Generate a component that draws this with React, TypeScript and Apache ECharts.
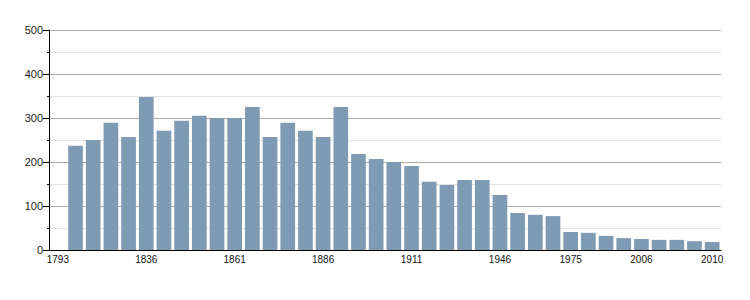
import React, { useEffect, useRef } from "react";
import * as echarts from "echarts";

const years = [
  "1793", "1800", "1806", "1821", "1831", "1836", "1841", "1846", "1851", "1856",
  "1861", "1866", "1872", "1876", "1881", "1886", "1891", "1896", "1901", "1906",
  "1911", "1921", "1926", "1931", "1936", "1946", "1954", "1962", "1968", "1975",
  "1982", "1990", "1999", "2006", "2007", "2008", "2009", "2010",
];

const population: (number | string)[] = [
  "-", 237, 250, 289, 257, 348, 271, 294, 305, 300,
  300, 325, 257, 289, 271, 257, 325, 218, 207, 200,
  191, 155, 148, 159, 159, 125, 84, 80, 77, 41,
  39, 32, 27, 25, 23, 23, 20, 18,
];

const labeledYears = ["1793", "1836", "1861", "1886", "1911", "1946", "1975", "2006", "2010"];

const FONT = "'Liberation Sans', Arial, Helvetica, sans-serif";

export default function App() {
  const ref = useRef<HTMLDivElement>(null);

  useEffect(() => {
    if (!ref.current) return;
    const chart = echarts.init(ref.current, undefined, { renderer: "svg" });
    chart.setOption({
      animation: false,
      grid: { left: 49, right: 29, top: 30, bottom: 50, containLabel: false },
      xAxis: {
        type: "category",
        data: years,
        axisLine: { show: true, lineStyle: { color: "#000", width: 1 } },
        axisTick: { show: false },
        axisLabel: {
          interval: (index: number, value: string) => labeledYears.includes(value),
          color: "#111",
          fontSize: 10,
          fontFamily: FONT,
          margin: 4,
        },
        splitLine: { show: false },
      },
      yAxis: {
        type: "value",
        min: 0,
        max: 500,
        interval: 100,
        axisLine: { show: true, lineStyle: { color: "#000", width: 1 } },
        axisTick: { show: true, length: 6, lineStyle: { color: "#000" } },
        minorTick: { show: true, splitNumber: 2, length: 2, lineStyle: { color: "#000" } },
        axisLabel: { color: "#222", fontSize: 11, fontFamily: FONT, margin: 6 },
        splitLine: { show: true, lineStyle: { color: "#aaaaaa", width: 1 } },
        minorSplitLine: { show: true, lineStyle: { color: "#e2e2e2", width: 1 } },
      },
      series: [
        {
          type: "bar",
          data: population,
          barCategoryGap: "17%",
          itemStyle: { color: "#7f9ab3" },
        },
      ],
    });
    return () => chart.dispose();
  }, []);

  return <div ref={ref} style={{ width: 750, height: 300, margin: -8 }} />;
}
